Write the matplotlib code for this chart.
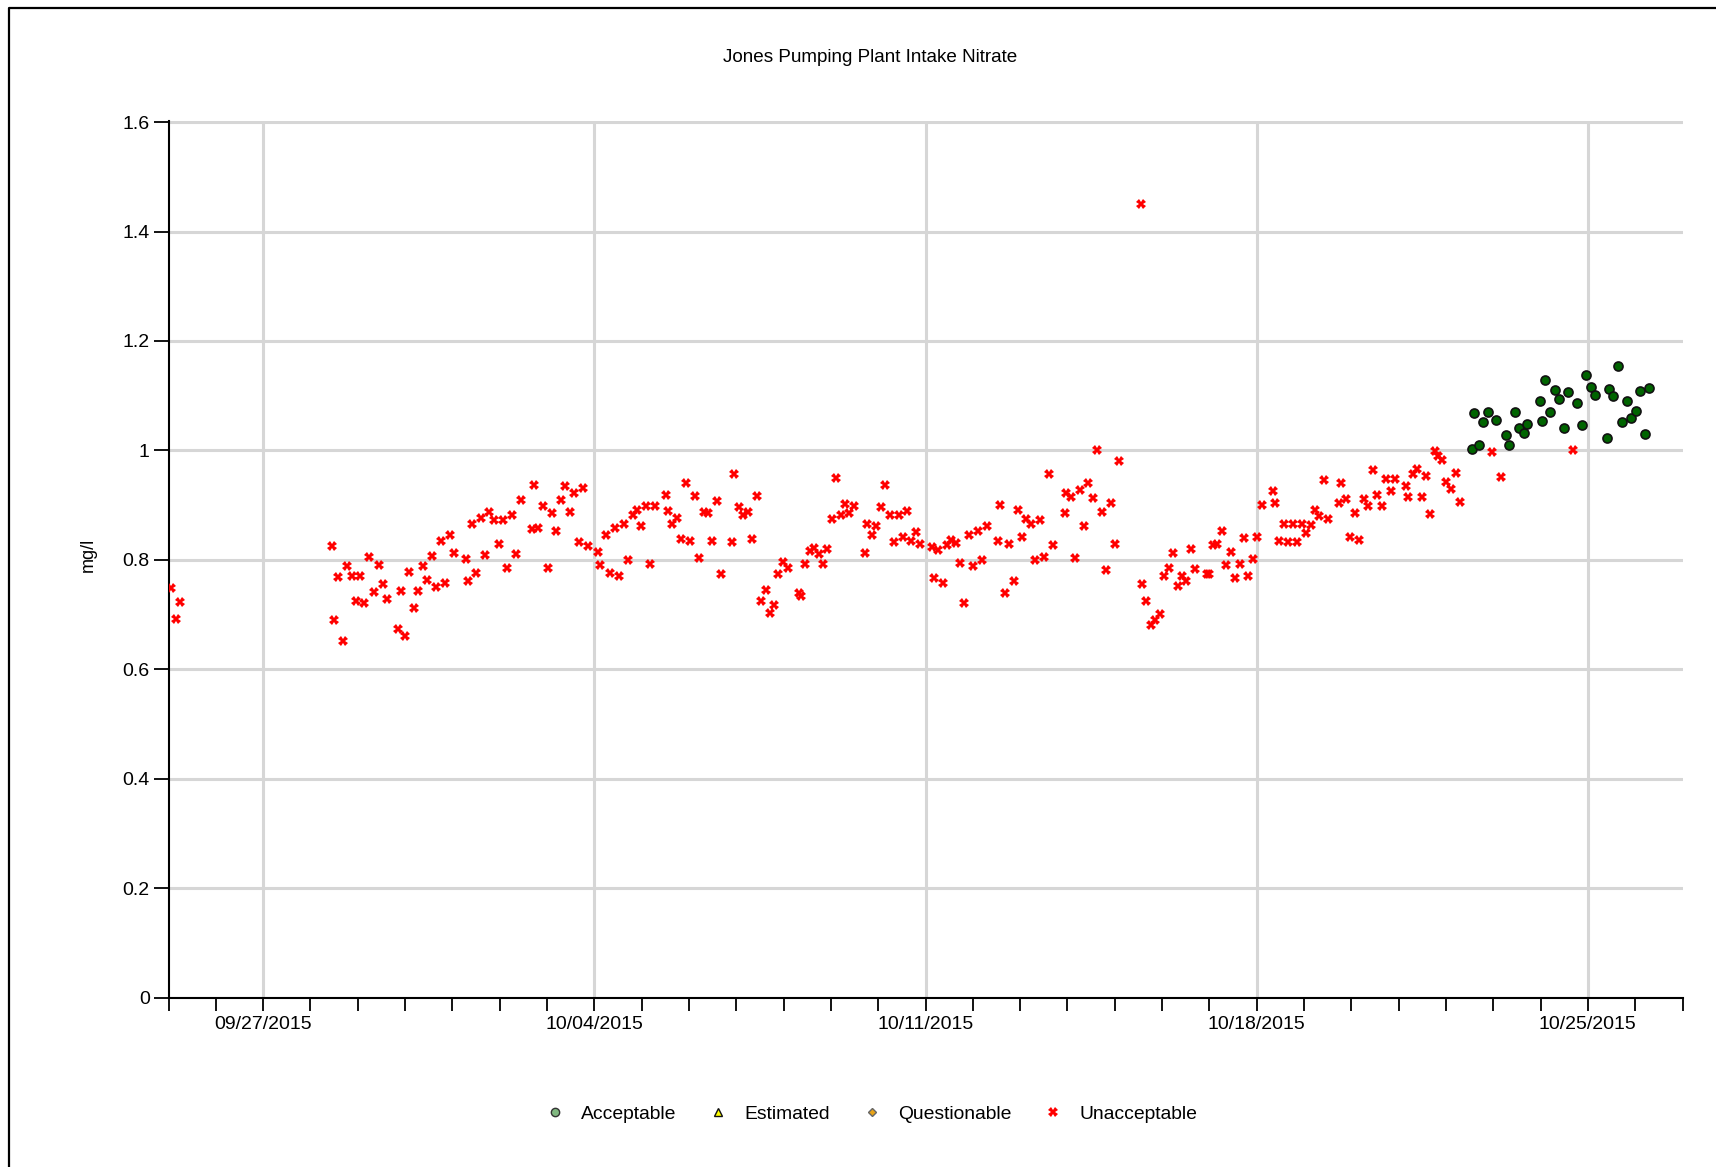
import matplotlib
matplotlib.use("Agg")
import matplotlib.pyplot as plt
import matplotlib.dates as mdates
from matplotlib.lines import Line2D
from matplotlib.ticker import MultipleLocator, FuncFormatter
import pandas as pd

plt.rcParams['font.family'] = ['Liberation Sans', 'DejaVu Sans']

# times are days after 09/25/2015 00:00, values in mg/l
start = pd.Timestamp('2015-09-25')
end = pd.Timestamp('2015-10-27')

red_days = [0.06, 0.15, 0.25,
            3.46, 3.49, 3.59, 3.68, 3.78, 3.87, 3.96, 4.05, 4.14, 4.24,
            4.34, 4.44, 4.53, 4.62, 4.86, 4.91, 5.00, 5.09, 5.19, 5.28,
            5.38, 5.47, 5.57, 5.66, 5.75, 5.84, 5.94, 6.03, 6.29, 6.32,
            6.41, 6.50, 6.60, 6.69, 6.78, 6.88, 6.98, 7.07, 7.16, 7.26,
            7.35, 7.45, 7.69, 7.73, 7.82, 7.92, 8.02, 8.11, 8.20, 8.30,
            8.38, 8.48, 8.58, 8.67, 8.77, 8.86, 9.08, 9.11,
            9.24, 9.34, 9.43, 9.53, 9.62, 9.71, 9.81, 9.90, 9.99, 10.09,
            10.18, 10.28, 10.52, 10.56, 10.65, 10.75, 10.84, 10.93, 11.03, 11.12,
            11.21, 11.31, 11.40, 11.49, 11.59, 11.68, 11.92, 11.95, 12.06, 12.14,
            12.24, 12.34, 12.43, 12.52, 12.62, 12.71, 12.80, 12.89, 12.99, 13.09,
            13.32, 13.36, 13.46, 13.55, 13.65, 13.74, 13.83, 13.92, 14.02, 14.11,
            14.21, 14.30, 14.39, 14.49, 14.73, 14.77, 14.87, 14.96, 15.05, 15.14,
            15.24, 15.33, 15.43, 15.52, 15.61, 15.70, 15.80, 15.89, 16.13, 16.17,
            16.26, 16.36, 16.45, 16.54, 16.64, 16.73, 16.82, 16.92, 17.01, 17.11,
            17.20, 17.30, 17.54, 17.58, 17.67, 17.77, 17.86, 17.95,
            18.04, 18.13, 18.23, 18.32, 18.42, 18.51, 18.60, 18.69, 18.94, 18.98,
            19.07, 19.17, 19.26, 19.35, 19.44, 19.54, 19.63, 19.73, 19.82, 19.92,
            20.01, 20.10, 20.55,
            20.58, 20.67, 20.77, 20.86, 20.95, 21.04, 21.14, 21.23, 21.33, 21.42,
            21.51, 21.61, 21.70, 21.94, 21.99, 22.08, 22.17, 22.27, 22.36, 22.45,
            22.55, 22.64, 22.73, 22.82, 22.92, 23.01, 23.11, 23.35, 23.39, 23.48,
            23.58, 23.67, 23.77, 23.86, 23.95, 24.05, 24.14, 24.23, 24.32, 24.42,
            24.51, 24.75, 24.79, 24.89, 24.98, 25.08, 25.17, 25.26, 25.35, 25.45,
            25.54, 25.64, 25.73, 25.83, 25.92, 26.16, 26.20, 26.30, 26.39, 26.49,
            26.58, 26.67, 26.76, 26.83,
            26.91, 27.01, 27.11, 27.21, 27.30, 27.97, 28.16, 29.68]

red_vals = [0.748, 0.691, 0.723,
            0.826, 0.690, 0.768, 0.652, 0.788, 0.770, 0.725, 0.770, 0.721, 0.805,
            0.741, 0.790, 0.755, 0.728, 0.673, 0.743, 0.661, 0.778, 0.712, 0.743,
            0.789, 0.763, 0.807, 0.751, 0.835, 0.757, 0.846, 0.813, 0.801, 0.762,
            0.866, 0.775, 0.877, 0.809, 0.887, 0.873, 0.829, 0.873, 0.785, 0.881,
            0.810, 0.909, 0.856, 0.936, 0.859, 0.898, 0.785, 0.885, 0.852, 0.909,
            0.935, 0.887, 0.923, 0.833, 0.932, 0.825, 0.815, 0.790,
            0.845, 0.775, 0.859, 0.771, 0.866, 0.799, 0.881, 0.891, 0.861, 0.899,
            0.792, 0.898, 0.918, 0.890, 0.866, 0.877, 0.838, 0.941, 0.835, 0.916,
            0.803, 0.887, 0.885, 0.834, 0.907, 0.774, 0.833, 0.957, 0.896, 0.881,
            0.887, 0.838, 0.916, 0.724, 0.745, 0.702, 0.718, 0.774, 0.796, 0.785,
            0.740, 0.734, 0.793, 0.816, 0.821, 0.810, 0.793, 0.820, 0.874, 0.949,
            0.882, 0.902, 0.886, 0.898, 0.813, 0.866, 0.845, 0.862, 0.897, 0.936,
            0.882, 0.833, 0.882, 0.842, 0.890, 0.835, 0.850, 0.829, 0.824, 0.767,
            0.818, 0.758, 0.827, 0.836, 0.830, 0.795, 0.721, 0.846, 0.788, 0.853,
            0.799, 0.861, 0.835, 0.901, 0.740, 0.829, 0.762, 0.891,
            0.841, 0.875, 0.865, 0.800, 0.872, 0.805, 0.957, 0.827, 0.885, 0.922,
            0.915, 0.804, 0.927, 0.861, 0.941, 0.913, 1.001, 0.888, 0.782, 0.904,
            0.829, 0.980, 1.450,
            0.756, 0.724, 0.681, 0.690, 0.701, 0.770, 0.785, 0.813, 0.752, 0.770,
            0.762, 0.820, 0.783, 0.774, 0.774, 0.827, 0.829, 0.852, 0.790, 0.814,
            0.767, 0.793, 0.839, 0.771, 0.802, 0.842, 0.901, 0.926, 0.904, 0.834,
            0.865, 0.832, 0.865, 0.832, 0.865, 0.849, 0.863, 0.891, 0.880, 0.946,
            0.874, 0.904, 0.941, 0.911, 0.841, 0.885, 0.837, 0.911, 0.898, 0.965,
            0.919, 0.898, 0.947, 0.926, 0.948, 0.935, 0.915, 0.956, 0.966, 0.915,
            0.954, 0.883, 0.998, 0.989,
            0.983, 0.943, 0.930, 0.959, 0.905, 0.997, 0.951, 1.000]

green_days = [27.56, 27.59, 27.69, 27.78, 27.88, 28.06, 28.26, 28.34, 28.45, 28.54,
              28.64, 28.72, 28.99, 29.02, 29.10, 29.21, 29.30, 29.40, 29.49, 29.59,
              29.78, 29.87, 29.96, 30.06, 30.15, 30.41, 30.44, 30.54, 30.64, 30.72,
              30.82, 30.92, 31.01, 31.10, 31.20, 31.29]

green_vals = [1.002, 1.069, 1.010, 1.052, 1.071, 1.055, 1.028, 1.009, 1.070, 1.041,
              1.031, 1.048, 1.091, 1.054, 1.128, 1.070, 1.110, 1.094, 1.041, 1.106,
              1.087, 1.046, 1.137, 1.115, 1.102, 1.022, 1.113, 1.099, 1.154, 1.051,
              1.090, 1.059, 1.072, 1.108, 1.030, 1.114]

legend_labels = ['Acceptable', 'Estimated', 'Questionable', 'Unacceptable']

W, H = 1716, 1167
fig = plt.figure(figsize=(W / 100, H / 100), dpi=100)
ax = fig.add_axes([168.5 / W, 1 - 997.5 / H, (1682.5 - 168.5) / W, (997.5 - 121) / H])

red_x = start + pd.to_timedelta(red_days, unit='D')
green_x = start + pd.to_timedelta(green_days, unit='D')

ax.plot(red_x, red_vals, 'X', ms=7, color='#ff0000', mew=0, zorder=3)
ax.plot(green_x, green_vals, 'o', ms=6.5, mfc='#006400', mec='#111111', mew=1.2, zorder=4)

ax.set_xlim(start, end)
ax.set_ylim(0, 1.602)

ax.yaxis.set_major_locator(MultipleLocator(0.2))
ax.yaxis.set_major_formatter(FuncFormatter(lambda v, p: '%g' % round(v, 1)))
ax.xaxis.set_major_locator(mdates.WeekdayLocator(byweekday=mdates.SU))
ax.xaxis.set_minor_locator(mdates.DayLocator())
ax.xaxis.set_major_formatter(mdates.DateFormatter('%m/%d/%Y'))

ax.grid(True, which='major', color='#d6d6d6', linewidth=2.2)
ax.set_axisbelow(True)
for s in ['top', 'right']:
    ax.spines[s].set_visible(False)
for s in ['left', 'bottom']:
    ax.spines[s].set_color('black')
    ax.spines[s].set_linewidth(1.5)

ax.tick_params(axis='y', which='major', direction='out', length=10.5, width=1.3,
               color='black', labelsize=14, pad=3)
ax.tick_params(axis='x', which='both', direction='out', length=9, width=1.3,
               color='black', labelsize=14, pad=4)

fig.text(870 / W, 1 - 57 / H, 'Jones Pumping Plant Intake Nitrate',
         ha='center', va='center', fontsize=13.6)
fig.text(88 / W, 1 - 555 / H, 'mg/l', rotation=90, ha='center', va='center', fontsize=13)

handles = [
    Line2D([], [], ls='', marker='o', ms=6, mfc='#80b880', mec='#333333', mew=1),
    Line2D([], [], ls='', marker='^', ms=6, mfc='#ffff00', mec='#111111', mew=1),
    Line2D([], [], ls='', marker='D', ms=4.5, mfc='#e8a317', mec='#666666', mew=1),
    Line2D([], [], ls='', marker='X', ms=7, color='#ff0000', mew=0),
]
fig.legend(handles, legend_labels, loc='center', bbox_to_anchor=(872 / W, 1 - 1114 / H),
           ncol=4, frameon=False, fontsize=13.9, handlelength=0.85,
           handletextpad=0.92, columnspacing=1.75)

# outer border of the chart window
fig.add_artist(Line2D([9 / W, 9 / W, 1], [0, 1 - 8 / H, 1 - 8 / H],
                      color='black', lw=1.6, transform=fig.transFigure))

fig.savefig('out.png', dpi=100)
